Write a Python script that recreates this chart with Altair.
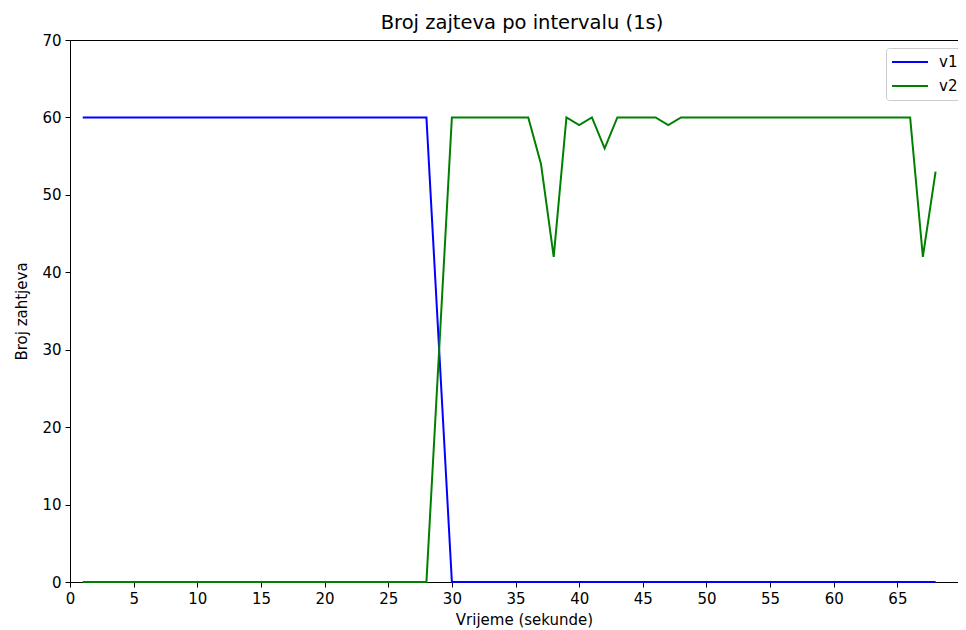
import altair as alt
import pandas as pd

# time in seconds
seconds = [1, 2, 3, 4, 5, 6, 7, 8, 9, 10, 11, 12, 13, 14, 15, 16, 17, 18, 19, 20,
           21, 22, 23, 24, 25, 26, 27, 28, 29, 30, 31, 32, 33, 34, 35, 36, 37, 38, 39, 40,
           41, 42, 43, 44, 45, 46, 47, 48, 49, 50, 51, 52, 53, 54, 55, 56, 57, 58, 59, 60,
           61, 62, 63, 64, 65, 66, 67, 68]

v1 = [60, 60, 60, 60, 60, 60, 60, 60, 60, 60, 60, 60, 60, 60, 60, 60, 60, 60, 60, 60,
      60, 60, 60, 60, 60, 60, 60, 60, 30, 0, 0, 0, 0, 0, 0, 0, 0, 0, 0, 0,
      0, 0, 0, 0, 0, 0, 0, 0, 0, 0, 0, 0, 0, 0, 0, 0, 0, 0, 0, 0,
      0, 0, 0, 0, 0, 0, 0, 0]

v2 = [0, 0, 0, 0, 0, 0, 0, 0, 0, 0, 0, 0, 0, 0, 0, 0, 0, 0, 0, 0,
      0, 0, 0, 0, 0, 0, 0, 0, 30, 60, 60, 60, 60, 60, 60, 60, 54, 42, 60, 59,
      60, 56, 60, 60, 60, 60, 59, 60, 60, 60, 60, 60, 60, 60, 60, 60, 60, 60, 60, 60,
      60, 60, 60, 60, 60, 60, 42, 53]

series_names = ["v1", "v2"]
series_colors = ["#0000ff", "#008000"]
x_ticks = [0, 5, 10, 15, 20, 25, 30, 35, 40, 45, 50, 55, 60, 65]
y_ticks = [0, 10, 20, 30, 40, 50, 60, 70]

rows = []
for name, vals in zip(series_names, [v1, v2]):
    for t, n in zip(seconds, vals):
        rows.append({"t": t, "n": n, "series": name})
df = pd.DataFrame(rows)

FONT = "DejaVu Sans"

x_scale = alt.Scale(domain=[0, 69.76], nice=False, zero=False)
y_scale = alt.Scale(domain=[0, 70], nice=False)

y_axis = alt.Axis(values=y_ticks, title="Broj zahtjeva", tickSize=5, labelFlush=False,
                  labelPadding=4, titlePadding=12)

lines = alt.Chart(df).mark_line(strokeWidth=2).encode(
    x=alt.X("t:Q", scale=x_scale,
            axis=alt.Axis(values=x_ticks, title="Vrijeme (sekunde)", titleX=454,
                          labelFlush=False, tickSize=5, labelPadding=4, titlePadding=6)),
    y=alt.Y("n:Q", scale=y_scale, axis=y_axis),
    color=alt.Color("series:N",
                    scale=alt.Scale(domain=series_names, range=series_colors),
                    legend=alt.Legend(title=None, orient="none", legendX=816, legendY=8,
                                      symbolType="stroke", symbolSize=1296,
                                      symbolStrokeWidth=2, clipHeight=18, rowPadding=6,
                                      padding=5, labelFontSize=15, labelFont=FONT,
                                      labelOffset=10, labelColor="#000000",
                                      fillColor="rgba(255,255,255,0.8)",
                                      strokeColor="#cccccc", cornerRadius=3)),
)

top_spine = alt.Chart(df).mark_line(opacity=0).encode(
    x=alt.X("t:Q", scale=x_scale,
            axis=alt.Axis(orient="top", labels=False, ticks=False, title=None)),
    y=alt.Y("n:Q", scale=y_scale, axis=y_axis),
    detail="series:N",
)

chart = alt.layer(lines, top_spine).resolve_axis(x="independent").properties(
    width=888,
    height=542,
    title=alt.TitleParams("Broj zajteva po intervalu (1s)", fontSize=19.5, font=FONT,
                          fontWeight="normal", color="#000000", anchor="middle",
                          dx=8, offset=0),
    autosize=alt.AutoSizeParams(type="none"),
    padding={"left": 62, "top": 32, "right": 0, "bottom": 48},
).configure(font=FONT).configure_view(stroke=None).configure_axis(
    grid=False, domainColor="#000000", domainWidth=1, tickColor="#000000",
    tickWidth=1, labelColor="#000000", labelFontSize=15, labelFont=FONT,
    titleColor="#000000", titleFontSize=15, titleFont=FONT, titleFontWeight="normal",
)

chart.save("out.html", embed_options={"renderer": "svg", "actions": False})
